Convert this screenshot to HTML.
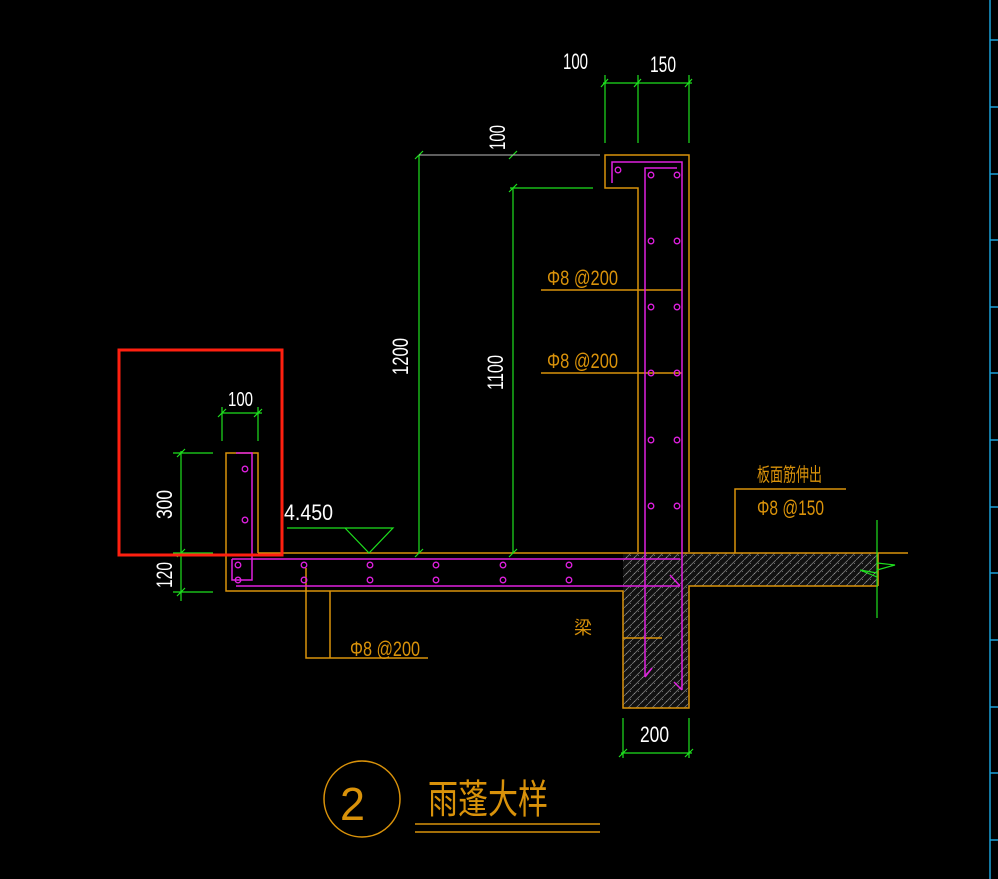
<!DOCTYPE html>
<html><head><meta charset="utf-8"><style>
html,body{margin:0;padding:0;background:#000;width:998px;height:879px;overflow:hidden}
svg{display:block}
.t{font-family:"Liberation Sans Narrow","Liberation Sans",sans-serif}
.c{font-family:"Liberation Sans","Noto Sans CJK SC",sans-serif}
</style></head><body>
<svg width="998" height="879" viewBox="0 0 998 879" xmlns="http://www.w3.org/2000/svg">
<defs>
<pattern id="h" width="8" height="8" patternUnits="userSpaceOnUse">
<rect width="8" height="8" fill="#111"/>
<path d="M0 8 L8 0" stroke="#777" stroke-width="0.8"/>
<rect x="2" y="5" width="1" height="1" fill="#888"/><rect x="6" y="3" width="1" height="1" fill="#666"/>
</pattern>
</defs>
<rect width="998" height="879" fill="#000"/>
<rect x="623" y="553" width="255" height="33" fill="url(#h)"/>
<rect x="623" y="553" width="66" height="155" fill="url(#h)"/>
<g stroke="#d9920a" stroke-width="1.5" fill="none">
<path d="M638 552 V188 H605 V155 H689 V552"/>
<path d="M258 553 V453 H226 V591 H623 V708 H689 V586 H878"/>
<path d="M258 553 H908"/>
<path d="M878 553 V586"/>
<path d="M306 568 V658 H428 M330 591 V658"/>
<path d="M735 553 V489 H846"/>
<path d="M541 290 H682 M541 373 H682"/>
<path d="M623 638 H662"/>
</g>
<g stroke="#e020e0" stroke-width="1.5" fill="none">
<path d="M612 183 V162 H682 V690"/>
<path d="M645 677 V168 H677"/>
<path d="M232 559 H680"/>
<path d="M236 453 H252 V580 H232 V559"/>
<path d="M236 586 H680"/>
<path d="M645 677 L652 668 M682 690 L674 682 M670 575 L680 586"/>
</g>
<g stroke="#e020e0" stroke-width="1.3" fill="none">
<circle cx="618" cy="170" r="2.8"/>
<circle cx="651" cy="175" r="2.8"/><circle cx="677" cy="175" r="2.8"/>
<circle cx="651" cy="241" r="2.8"/><circle cx="677" cy="241" r="2.8"/>
<circle cx="651" cy="307" r="2.8"/><circle cx="677" cy="307" r="2.8"/>
<circle cx="651" cy="373" r="2.8"/><circle cx="677" cy="373" r="2.8"/>
<circle cx="651" cy="440" r="2.8"/><circle cx="677" cy="440" r="2.8"/>
<circle cx="651" cy="506" r="2.8"/><circle cx="677" cy="506" r="2.8"/>
<circle cx="245" cy="469" r="2.8"/><circle cx="245" cy="520" r="2.8"/>
<circle cx="238" cy="565" r="2.8"/><circle cx="238" cy="580" r="2.8"/>
<circle cx="304" cy="565" r="2.8"/><circle cx="304" cy="580" r="2.8"/>
<circle cx="370" cy="565" r="2.8"/><circle cx="370" cy="580" r="2.8"/>
<circle cx="436" cy="565" r="2.8"/><circle cx="436" cy="580" r="2.8"/>
<circle cx="503" cy="565" r="2.8"/><circle cx="503" cy="580" r="2.8"/>
<circle cx="569" cy="565" r="2.8"/><circle cx="569" cy="580" r="2.8"/>
</g>
<g stroke="#1ee01e" stroke-width="1.2" fill="none">
<path d="M603 83 H692 M605 75 V143 M638 75 V143 M689 75 V143"/>
<path d="M601 87 L608 79 M634 87 L641 79 M685 87 L692 79"/>
<path d="M419 155 V553 M513 188 V553 M510 188 H593 M415 159 L423 151 M509 159 L517 151 M509 192 L517 184 M415 557 L423 549 M509 557 L517 549"/>
<path d="M222 413 H262 M222 407 V441 M258 407 V441 M218 417 L226 409 M254 417 L262 409"/>
<path d="M181 451 V601 M173 453 H213 M173 553 H213 M173 592 H213 M177 457 L185 449 M177 557 L185 549 M177 596 L185 588"/>
<path d="M287 528 H393 L369 553 L345 528"/>
<path d="M623 718 V758 M689 718 V758 M621 753 H692 M619 757 L627 749 M685 757 L693 749"/>
<path d="M877 520 V618 M877 563 L895 565 L877 570 M860 570 L877 573 M877 577 L860 570"/>
</g>
<path d="M419 155 H600" stroke="#bbb" stroke-width="1"/>
<g fill="#fff" class="t" font-size="22" lengthAdjust="spacingAndGlyphs">
<text x="563" y="69" textLength="25" lengthAdjust="spacingAndGlyphs">100</text>
<text x="650" y="72" textLength="26" lengthAdjust="spacingAndGlyphs">150</text>
<text x="228" y="406" font-size="20" textLength="25" lengthAdjust="spacingAndGlyphs">100</text>
<text x="284" y="520" textLength="49" lengthAdjust="spacingAndGlyphs">4.450</text>
<text x="640" y="742" textLength="29" lengthAdjust="spacingAndGlyphs">200</text>
<text transform="translate(505,150) rotate(-90)" textLength="25" lengthAdjust="spacingAndGlyphs">100</text>
<text transform="translate(408,375) rotate(-90)" textLength="37" lengthAdjust="spacingAndGlyphs">1200</text>
<text transform="translate(503,390) rotate(-90)" textLength="35" lengthAdjust="spacingAndGlyphs">1100</text>
<text transform="translate(172,519) rotate(-90)" textLength="29" lengthAdjust="spacingAndGlyphs">300</text>
<text transform="translate(172,588) rotate(-90)" textLength="26" lengthAdjust="spacingAndGlyphs">120</text>
</g>
<g fill="#d9920a" class="c" font-size="21">
<text x="547" y="285" textLength="71" lengthAdjust="spacingAndGlyphs">Φ8 @200</text>
<text x="547" y="368" textLength="71" lengthAdjust="spacingAndGlyphs">Φ8 @200</text>
<text x="757" y="515" textLength="67" lengthAdjust="spacingAndGlyphs">Φ8 @150</text>
<text x="350" y="656" textLength="70" lengthAdjust="spacingAndGlyphs">Φ8 @200</text>
<text x="757" y="481" font-size="19" textLength="65" lengthAdjust="spacingAndGlyphs">板面筋伸出</text>
<text x="574" y="634" font-size="18">梁</text>
<text x="428" y="813" font-size="40" textLength="120" lengthAdjust="spacingAndGlyphs">雨蓬大样</text>
</g>
<circle cx="362" cy="799" r="38" stroke="#d9920a" stroke-width="1.5" fill="none"/>
<text x="340" y="820" fill="#d9920a" class="t" font-size="46" textLength="25" lengthAdjust="spacingAndGlyphs">2</text>
<path d="M415 824 H600 M415 832 H600" stroke="#d9920a" stroke-width="1.5"/>
<rect x="119" y="350" width="163" height="205" fill="none" stroke="#ff2010" stroke-width="3"/>
<g stroke="#1aa0d8" stroke-width="1.5">
<path d="M990 0 V879"/>
<path d="M990 40 H998 M990 107 H998 M990 174 H998 M990 240 H998 M990 307 H998 M990 373 H998 M990 440 H998 M990 507 H998 M990 573 H998 M990 640 H998 M990 707 H998 M990 773 H998 M990 840 H998"/>
</g>
</svg>
</body></html>
